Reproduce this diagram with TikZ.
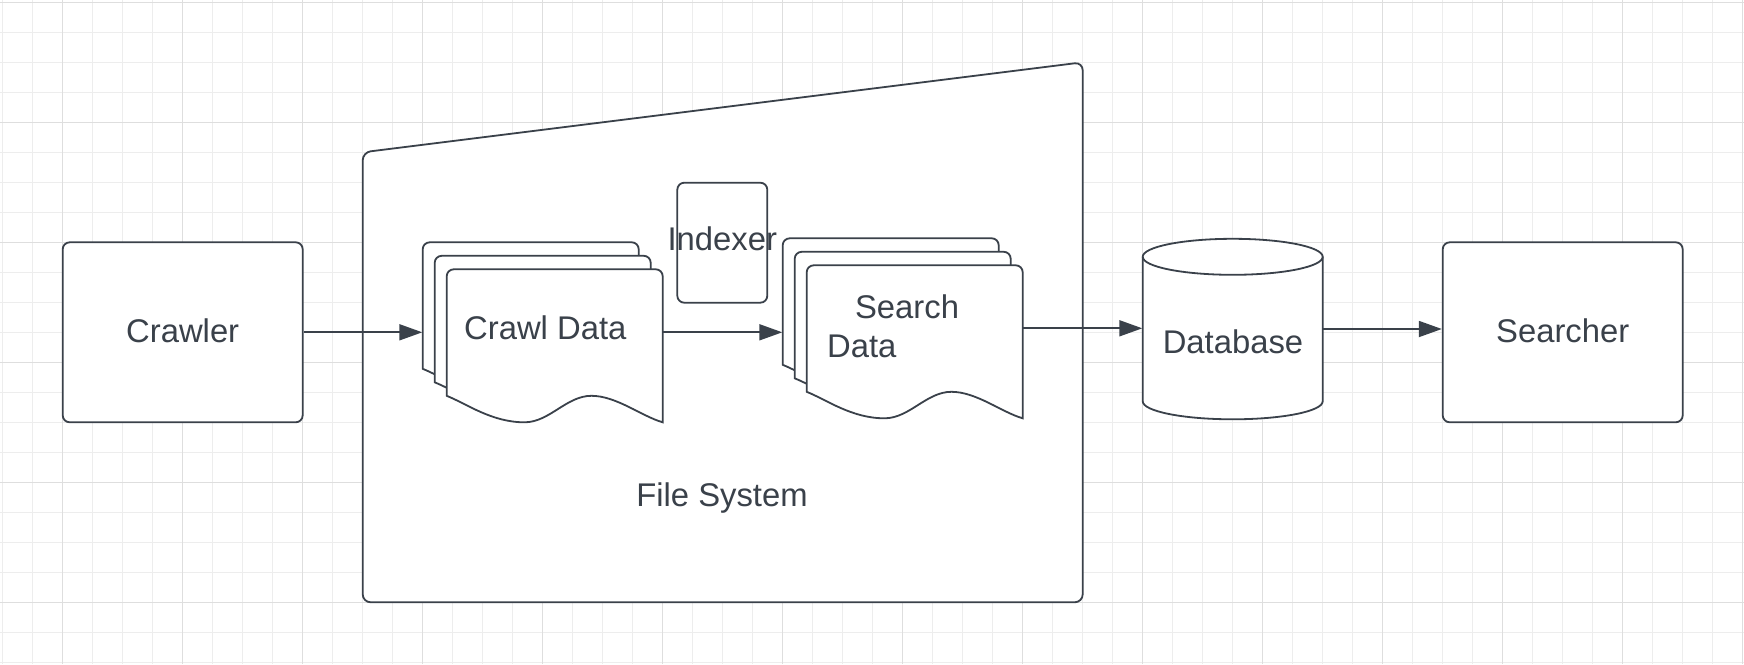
\documentclass[tikz,border=0pt]{standalone}
\usepackage{fontspec}
\setmainfont{Liberation Sans}
\usetikzlibrary{arrows.meta}
\definecolor{ink}{HTML}{3A414A}
\definecolor{gridminor}{HTML}{EDEDED}
\definecolor{gridmajor}{HTML}{DEDEDE}
\tikzset{
  shapeline/.style={draw=ink, fill=white, line width=0.9pt},
  box/.style={shapeline, rounded corners=3.5pt, minimum width=120pt, minimum height=90pt,
    inner sep=0pt, text height=10pt, text depth=0pt, font=\fontsize{16.4pt}{19.5pt}\selectfont, text=ink},
  holder/.style={inner sep=0pt, minimum width=120pt, minimum height=90pt},
  txt/.style={inner sep=0pt, anchor=base, font=\fontsize{16.4pt}{19.5pt}\selectfont, text=ink},
  conn/.style={draw=ink, line width=0.9pt, -{Triangle[length=11.5pt, width=8pt]}},
  minorgrid/.style={draw=gridminor, line width=0.5pt},
  majorgrid/.style={draw=gridmajor, line width=0.5pt}
}
% one document sheet, top-left corner at (#1,#2), 216 x 153 px
\newcommand\docsheet[2]{%
  \draw[shapeline] ({#1},{#2+126.5}) [rounded corners=3.5pt] -- ({#1},{#2}) -- ({#1+216},{#2}) [sharp corners] -- ({#1+216},{#2+153})
    .. controls ({#1+195},{#2+147}) and ({#1+169.7},{#2+126.5}) .. ({#1+144.7},{#2+126.5})
    .. controls ({#1+119.7},{#2+126.5}) and ({#1+102.8},{#2+153}) .. ({#1+77.8},{#2+153})
    .. controls ({#1+45},{#2+153}) and ({#1+20},{#2+134.5}) .. cycle;%
}
\newcommand\docstack[2]{%
  \docsheet{#1}{#2}\docsheet{#1+12}{#2+13.5}\docsheet{#1+24}{#2+27}%
}
\begin{document}
\begin{tikzpicture}[x=0.5pt, y=-0.5pt]
\fill[white] (0,0) rectangle (1744,664);
\useasboundingbox (0,0) rectangle (1744,664);
% grid
\foreach \i in {0,...,58} \draw[minorgrid] ({2.7+30*\i},0) -- ({2.7+30*\i},664);
\foreach \i in {0,...,22} \draw[minorgrid] (0,{2.3+30*\i}) -- (1744,{2.3+30*\i});
\foreach \i in {0,...,14} \draw[majorgrid] ({62.7+120*\i},0) -- ({62.7+120*\i},664);
\foreach \i in {0,...,5} \draw[majorgrid] (0,{2.3+120*\i}) -- (1744,{2.3+120*\i});
% file system (manual input shape)
\draw[shapeline, rounded corners=4pt] (362.7,602.3) -- (362.7,152.3) -- (1082.7,62.3) -- (1082.7,602.3) -- cycle;
\node[txt] (fs) at (722,506.7) {File System};
% crawler
\node[box] (crawler) at (182.7,332.3) {Crawler};
% crawl data stack
\docstack{422.7}{242.3}
\node[holder] (crawl) at (542.7,332.3) {};
\node[txt] (crawltxt) at (545.3,339.3) {Crawl Data};
% indexer
\node[box, minimum width=45pt, minimum height=60pt, text height=7.3pt] (indexer) at (722.3,242.7) {\makebox[0pt]{Indexer}};
% search data stack
\docstack{782.7}{238.3}
\node[holder] (search) at (902.7,328.3) {};
\node[txt, anchor=base west] (searchtxt) at (826.7,318.3) {\vtop{\hbox{\hspace*{14pt}Search}\hbox{Data}}};
% database
\draw[shapeline] (1142.7,256.8) -- (1142.7,401.3) arc[start angle=180, end angle=0, x radius=90, y radius=18] -- (1322.7,256.8);
\draw[shapeline] (1232.7,256.8) ellipse[x radius=90, y radius=18];
\node[holder, minimum width=90pt] (db) at (1232.7,329) {};
\node[txt] (dbtxt) at (1233,353.3) {Database};
% searcher
\node[box] (searcher) at (1562.7,332.3) {Searcher};
% connectors
\draw[conn] (crawler.east) -- (crawl.west);
\draw[conn] (crawl.east) -- (crawl.east -| search.west);
\draw[conn] (search.east) -- (search.east -| db.west);
\draw[conn] (db.east) -- (db.east -| searcher.west);
\end{tikzpicture}
\end{document}
